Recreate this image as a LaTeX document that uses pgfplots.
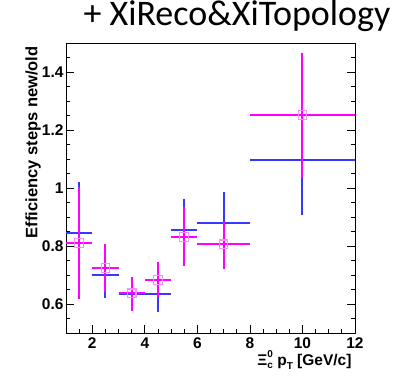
\documentclass[border=0pt]{standalone}
\usepackage{pgfplots}
\pgfplotsset{compat=1.18}
\usepackage{pgfplotstable}
\usepackage{fontspec}
\setmainfont{Liberation Sans}
\newfontfamily\titlefont{Carlito}
\definecolor{myblue}{RGB}{55,55,255}
\definecolor{mymag}{RGB}{255,0,255}
\definecolor{mymark}{RGB}{255,140,255}

% x, y, ex, eyplus, eyminus
\pgfplotstableread{
x y ex eyp eym
1.5 0.846 0.5 0.174 0.174
2.5 0.700 0.5 0.078 0.078
3.5 0.635 0.5 0.055 0.055
4.5 0.636 0.5 0.062 0.062
5.5 0.855 0.5 0.108 0.108
7 0.879 1 0.106 0.106
10 1.096 2 0.188 0.188
}\blueTable

\pgfplotstableread{
x y ex eyp eym
1.5 0.810 0.5 0.193 0.194
2.5 0.725 0.5 0.083 0.083
3.5 0.637 0.5 0.056 0.061
4.5 0.682 0.5 0.062 0.057
5.5 0.831 0.5 0.103 0.100
7 0.806 1 0.077 0.086
10 1.251 2 0.214 0.216
}\magTable

\begin{document}
\begin{tikzpicture}
\path[use as bounding box] (-66pt,-43pt) rectangle (344pt,333pt);
\begin{axis}[
  at={(0,0)}, anchor=south west,
  scale only axis, width=289pt, height=290pt,
  xmin=1, xmax=12, ymin=0.5, ymax=1.5,
  xtick={2,4,6,8,10,12},
  ytick={0.6,0.8,1,1.2,1.4},
  yticklabels={0.6,0.8,1,1.2,1.4},
  minor xtick={1.5,2.5,3,3.5,4.5,5,5.5,6.5,7,7.5,8.5,9,9.5,10.5,11,11.5},
  minor ytick={0.55,0.65,0.7,0.75,0.85,0.9,0.95,1.05,1.1,1.15,1.25,1.3,1.35,1.45},
  xtick pos=left, ytick pos=both,
  tick align=inside,
  major tick length=8pt, minor tick length=4pt,
  every tick/.style={black, line width=0.8pt},
  axis line style={line width=0.9pt},
  /pgf/number format/assume math mode=true,
  ticklabel style={font=\fontsize{15.5}{15.5}\selectfont\bfseries},
  yticklabel style={xshift=1pt},
  xticklabel style={yshift=-1pt},
  xlabel={Ξ\rlap{\raisebox{-0.45ex}{\fontsize{10}{10}\selectfont c}}\raisebox{0.95ex}{\fontsize{10}{10}\selectfont 0}\ p\raisebox{-0.5ex}{\fontsize{10}{10}\selectfont T} [GeV/c]},
  xlabel style={at={(axis description cs:1,0)}, anchor=base east, yshift=-32pt, font=\fontsize{15.5}{15.5}\selectfont\bfseries},
  ylabel={Efficiency steps new/old},
  ylabel style={at={(axis description cs:-0.099,1)}, anchor=base east, rotate=0, font=\fontsize{16.5}{16.5}\selectfont\bfseries},
  title={+ XiReco\&XiTopology},
  title style={at={(axis description cs:0,1)}, anchor=base west, xshift=14pt, yshift=12pt, font=\titlefont\fontsize{36}{36}\selectfont},
  clip=false,
]
\addplot[draw=none, no marks, color=myblue,
  error bars/.cd, x dir=both, x explicit, y dir=both, y explicit,
  error mark=none,
  error bar style={draw=myblue, line width=2pt, solid}]
  table[x=x, y=y, x error=ex, y error plus=eyp, y error minus=eym] {\blueTable};
\addplot[draw=none, color=mymag, mark=square, mark size=4.3pt,
  mark options={draw=mymark, line width=1.1pt, fill=none, solid},
  error bars/.cd, x dir=both, x explicit, y dir=both, y explicit,
  error mark=none,
  error bar style={draw=mymag, line width=2pt, solid}]
  table[x=x, y=y, x error=ex, y error plus=eyp, y error minus=eym] {\magTable};
\end{axis}
\end{tikzpicture}
\end{document}
